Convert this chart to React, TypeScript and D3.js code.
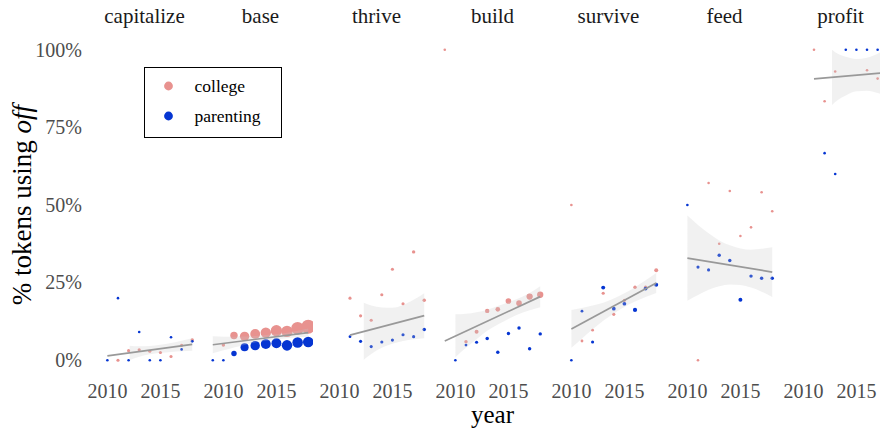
import React, { useEffect, useRef } from 'react';
import * as d3 from 'd3';

// facet order, left to right
const facets = ['capitalize', 'base', 'thrive', 'build', 'survive', 'feed', 'profit'];

// points: [year, % tokens using off, tokens]
const capitalizeCollege = [[2011, 0, 5], [2012, 3.1, 5], [2013, 3.4, 5], [2014, 2.9, 5], [2015, 2.5, 5], [2016, 1.2, 5], [2017, 4.8, 5], [2018, 6.5, 6]];
const capitalizeParenting = [[2010, 0, 3], [2011, 20, 3], [2012, 0, 3], [2013, 9.1, 3], [2014, 0, 3], [2015, 0, 3], [2016, 7.4, 3], [2017, 3.5, 3], [2018, 6.1, 4]];
const baseCollege = [[2010, 4.9, 6], [2011, 8.0, 28], [2012, 7.7, 45], [2013, 8.5, 50], [2014, 8.9, 55], [2015, 9.5, 66], [2016, 9.3, 66], [2017, 10.3, 82], [2018, 10.8, 100]];
const baseParenting = [[2009, 0, 3], [2010, 0, 3], [2011, 2.2, 15], [2012, 4.2, 33], [2013, 4.7, 45], [2014, 5.2, 50], [2015, 5.5, 50], [2016, 4.8, 57], [2017, 5.7, 57], [2018, 5.9, 57]];
const thriveCollege = [[2011, 20.0, 5], [2012, 14.3, 5], [2013, 12.9, 5], [2014, 21.1, 5], [2015, 29.3, 5], [2016, 18.2, 5], [2017, 34.9, 6], [2018, 19.3, 6]];
const thriveParenting = [[2011, 7.6, 4], [2012, 6.1, 5], [2013, 4.4, 5], [2014, 5.9, 5], [2015, 6.5, 5], [2016, 8.2, 5], [2017, 7.6, 5], [2018, 9.9, 6]];
const buildCollege = [[2009, 100, 3], [2011, 6.0, 6], [2012, 9.2, 8], [2013, 15.9, 10], [2014, 16.4, 11], [2015, 19.1, 16], [2016, 18.4, 16], [2017, 20.5, 20], [2018, 21.1, 20]];
const buildParenting = [[2010, 0, 3], [2011, 4.9, 4], [2012, 5.8, 5], [2013, 7.0, 6], [2014, 2.6, 6], [2015, 8.6, 6], [2016, 10.4, 6], [2017, 3.7, 6], [2018, 8.5, 6]];
const surviveCollege = [[2010, 50, 3], [2011, 6.2, 4], [2012, 9.7, 4], [2013, 21.6, 5], [2014, 14.8, 5], [2015, 19.3, 5], [2016, 23.5, 6], [2017, 23.5, 6], [2018, 29.0, 8]];
const surviveParenting = [[2010, 0, 3], [2011, 15.8, 4], [2012, 5.9, 5], [2013, 23.4, 8], [2014, 16.6, 7], [2015, 18.2, 7], [2016, 16.2, 9], [2017, 23.1, 7], [2018, 24.3, 8]];
const feedCollege = [[2011, 0, 3], [2012, 57.1, 3], [2013, 37.5, 3], [2014, 54.5, 3], [2015, 40.0, 3], [2016, 42.8, 3], [2017, 54.1, 3], [2018, 48.0, 3]];
const feedParenting = [[2010, 50, 3], [2011, 30.0, 5], [2012, 29.1, 5], [2013, 33.8, 6], [2014, 32.1, 6], [2015, 19.5, 8], [2016, 27.1, 6], [2017, 26.4, 6], [2018, 26.4, 6]];
const profitCollege = [[2011, 100, 3], [2012, 83.4, 3], [2013, 93.0, 3], [2016, 93.4, 3], [2017, 90.7, 3]];
const profitParenting = [[2012, 66.7, 3], [2013, 60.0, 3], [2014, 100, 3], [2015, 100, 3], [2016, 100, 3], [2017, 100, 3], [2018, 100, 3]];

// linear fit: [year, %] at both ends of each facet
const fitStart = [[2010, 1.4], [2009, 5.0], [2011, 8.1], [2009, 6.2], [2010, 10.1], [2010, 32.9], [2011, 90.6]];
const fitEnd = [[2018, 5.1], [2018, 8.9], [2018, 14.4], [2018, 20.5], [2018, 24.9], [2018, 28.4], [2018, 92.7]];

// confidence band, read where it is drawn
const bandYears = [
  [2012.1, 2013, 2014, 2015, 2016, 2017, 2018],
  [2009, 2010, 2011, 2012, 2013, 2014, 2015, 2016, 2017, 2018],
  [2012.3, 2013, 2014, 2015, 2016, 2017, 2018],
  [2010, 2011, 2012, 2013, 2014, 2015, 2016, 2017, 2018],
  [2010, 2011, 2012, 2013, 2014, 2015, 2016, 2017, 2018],
  [2010, 2011, 2012, 2013, 2014, 2015, 2016, 2017, 2018],
  [2012.7, 2013, 2014, 2015, 2016, 2017, 2017.6],
];
const bandLow = [
  [0.0, 1.1, 1.9, 2.4, 2.7, 2.9, 3.1],
  [2.3, 3.2, 4.1, 4.95, 5.7, 6.3, 6.75, 7.1, 7.4, 7.6],
  [0.2, 2.0, 4.0, 5.3, 6.2, 6.8, 7.1],
  [1.0, 4.0, 6.8, 9.5, 11.5, 13.3, 14.9, 16.1, 17.1],
  [4.0, 7.05, 10.0, 12.75, 15.1, 17.15, 18.9, 20.35, 21.7],
  [19.2, 21.0, 22.7, 23.8, 24.4, 24.2, 23.4, 22.1, 20.4],
  [82.2, 83.2, 85.3, 86.6, 86.8, 86.1, 85.4],
];
const bandHigh = [
  [4.7, 4.5, 4.6, 5.0, 5.6, 6.3, 7.1],
  [7.7, 7.6, 7.6, 7.65, 7.8, 8.1, 8.45, 8.9, 9.5, 10.2],
  [18.5, 17.6, 17.0, 16.9, 17.8, 19.5, 21.6],
  [14.8, 15.0, 15.5, 16.3, 17.5, 18.7, 20.0, 21.7, 23.8],
  [16.2, 16.85, 17.6, 18.55, 19.9, 21.55, 23.5, 25.75, 28.1],
  [46.6, 43.6, 40.9, 38.6, 37.0, 36.0, 35.6, 35.9, 36.4],
  [100, 99.2, 97.7, 97.0, 97.4, 98.7, 99.8],
];

const collegeByFacet = [capitalizeCollege, baseCollege, thriveCollege, buildCollege, surviveCollege, feedCollege, profitCollege];
const parentingByFacet = [capitalizeParenting, baseParenting, thriveParenting, buildParenting, surviveParenting, feedParenting, profitParenting];

const xTicks = [2010, 2015];
const yTicks = [0, 25, 50, 75, 100];
const groups = ['college', 'parenting'];
const colors = ['#e8928f', '#0535d2'];

const FONT = '"Liberation Serif", "Times New Roman", serif';

const App: React.FC = () => {
  const svgRef = useRef<SVGSVGElement>(null);

  useEffect(() => {
    if (!svgRef.current) return;
    const svg = d3.select(svgRef.current);
    svg.selectAll('*').remove();

    const width = 880;
    const height = 428;
    const left = 92;
    const panelW = 105;
    const gap = 11;
    const top = 34.2;
    const bottom = 375.8;

    const x = d3.scaleLinear().domain([2008.55, 2018.45]).range([0, panelW]);
    const y = d3.scaleLinear().domain([-5, 105]).range([bottom, top]);
    const r = d3.scaleSqrt().domain([0, 100]).range([0, 7]);
    const color = d3.scaleOrdinal<string, string>().domain(groups).range(colors);

    svg.attr('width', width).attr('height', height).style('font-family', FONT);

    // y tick labels
    svg.append('g')
      .selectAll('text')
      .data(yTicks)
      .join('text')
      .attr('x', left - 10)
      .attr('y', d => y(d))
      .attr('dy', '0.34em')
      .attr('text-anchor', 'end')
      .attr('fill', '#4d4d4d')
      .style('font-size', '20px')
      .text(d => `${d}%`);

    facets.forEach((name, i) => {
      const ox = left + i * (panelW + gap);
      const clipId = `clip-${name}`;
      svg.append('clipPath').attr('id', clipId)
        .append('rect').attr('x', 0).attr('y', top).attr('width', panelW).attr('height', bottom - top);

      const g = svg.append('g').attr('transform', `translate(${ox},0)`);

      // strip label
      g.append('text')
        .attr('x', panelW / 2)
        .attr('y', 23)
        .attr('text-anchor', 'middle')
        .attr('fill', '#1a1a1a')
        .style('font-size', '21px')
        .text(name);

      // x tick labels
      g.selectAll('.xt')
        .data(xTicks)
        .join('text')
        .attr('class', 'xt')
        .attr('x', d => x(d))
        .attr('y', 398)
        .attr('text-anchor', 'middle')
        .attr('fill', '#4d4d4d')
        .style('font-size', '20px')
        .text(d => d);

      const inner = g.append('g').attr('clip-path', `url(#${clipId})`);

      const pts = [
        ...collegeByFacet[i].map(d => ({ year: d[0], v: d[1], n: d[2], group: 'college' })),
        ...parentingByFacet[i].map(d => ({ year: d[0], v: d[1], n: d[2], group: 'parenting' })),
      ];

      inner.selectAll('circle')
        .data(pts)
        .join('circle')
        .attr('cx', d => x(d.year))
        .attr('cy', d => y(d.v))
        .attr('r', d => Math.max(1.3, r(d.n)))
        .attr('fill', d => color(d.group));

      // confidence band over the points
      const band = bandYears[i].map((yr, k) => ({ yr, lo: bandLow[i][k], hi: bandHigh[i][k] }));
      inner.append('path')
        .datum(band)
        .attr('fill', '#c8c8c8')
        .attr('fill-opacity', 0.25)
        .attr('d', d3.area<any>()
          .x(d => x(d.yr))
          .y0(d => y(d.lo))
          .y1(d => y(d.hi))
          .curve(d3.curveMonotoneX));

      inner.append('path')
        .datum([fitStart[i], fitEnd[i]])
        .attr('fill', 'none')
        .attr('stroke', '#999999')
        .attr('stroke-width', 1.7)
        .attr('d', d3.line<number[]>().x(d => x(d[0])).y(d => y(d[1])));
    });

    // axis titles
    svg.append('text')
      .attr('x', left + (7 * panelW + 6 * gap) / 2)
      .attr('y', 423)
      .attr('text-anchor', 'middle')
      .attr('fill', '#000')
      .style('font-size', '25px')
      .text('year');

    const yl = svg.append('text')
      .attr('transform', `translate(31,${(top + bottom) / 2}) rotate(-90)`)
      .attr('text-anchor', 'middle')
      .attr('fill', '#000')
      .style('font-size', '27px');
    yl.append('tspan').text('% tokens using ');
    yl.append('tspan').style('font-style', 'italic').text('off');

    // legend
    const lg = svg.append('g').attr('transform', 'translate(144.5,67.5)');
    lg.append('rect')
      .attr('width', 137)
      .attr('height', 70)
      .attr('fill', '#fff')
      .attr('stroke', '#000')
      .attr('stroke-width', 1);
    groups.forEach((gname, k) => {
      lg.append('circle')
        .attr('cx', 24)
        .attr('cy', 18.5 + k * 30)
        .attr('r', 4.4)
        .attr('fill', color(gname));
      lg.append('text')
        .attr('x', 50)
        .attr('y', 18.5 + k * 30)
        .attr('dy', '0.32em')
        .attr('fill', '#000')
        .style('font-size', '17.5px')
        .text(gname);
    });
  }, []);

  return (
    <div style={{ position: 'absolute', left: 0, top: 0, background: '#fff' }}>
      <svg ref={svgRef} style={{ display: 'block' }} />
    </div>
  );
};

export default App;
